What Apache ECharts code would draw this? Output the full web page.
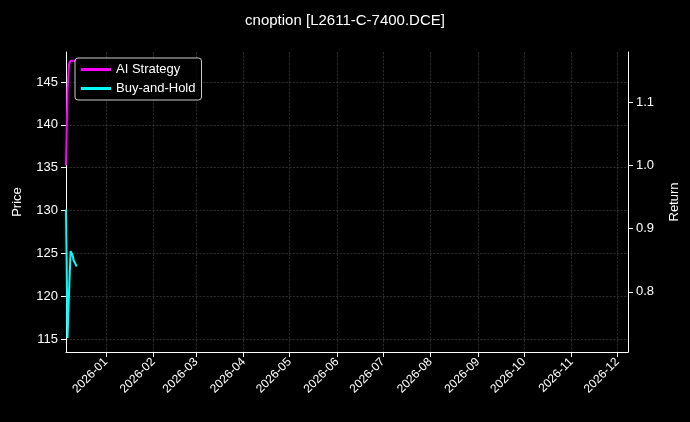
<!DOCTYPE html>
<html><head><meta charset="utf-8">
<script src="https://cdn.jsdelivr.net/npm/echarts@6/dist/echarts.min.js"></script>
<style>html,body{margin:0;background:#000}#c{width:690px;height:422px}</style>
</head><body><div id="c"></div>
<script>
const dates = ['2025-12-06','2025-12-07','2025-12-08','2025-12-09','2025-12-10','2025-12-11','2025-12-12','2025-12-13'];
const aiReturn = [1.00, 1.12, 1.16, 1.165, 1.165, 1.165, 1.165, 1.165];
const bhReturn = [0.93, 0.727, 0.80, 0.864, 0.86, 0.85, 0.845, 0.84];
const tickMonths = ['2026-01','2026-02','2026-03','2026-04','2026-05','2026-06','2026-07','2026-08','2026-09','2026-10','2026-11','2026-12'];

const ts = s => Date.UTC(+s.slice(0, 4), +s.slice(5, 7) - 1, s.length > 7 ? +s.slice(8, 10) : 1);
const monthTicks = tickMonths.map(ts);

const chart = echarts.init(document.getElementById('c'));
const split = {show: true, lineStyle: {color: '#444', type: 'dashed', width: 0.6}};
chart.setOption({
    backgroundColor: '#000',
    animation: false,
    title: {text: 'cnoption [L2611-C-7400.DCE]', left: 'center', top: 8,
        textStyle: {color: '#fff', fontSize: 15, fontWeight: 'normal'}},
    legend: {left: 75, top: 58, orient: 'vertical', itemGap: 6,
        borderColor: '#ccc', borderWidth: 1, borderRadius: 3, padding: [5, 6],
        backgroundColor: 'rgba(0,0,0,0.8)', textStyle: {color: '#fff', fontSize: 13},
        itemWidth: 30, itemHeight: 3, icon: 'rect',
        data: ['AI Strategy', 'Buy-and-Hold']},
    grid: {left: 66, right: 62, top: 52, bottom: 70},
    xAxis: {type: 'value', min: ts('2025-12-06'), max: ts('2026-12-08'),
        axisLine: {lineStyle: {color: '#fff'}},
        axisTick: {show: true, customValues: monthTicks, lineStyle: {color: '#fff'}},
        axisLabel: {color: '#fff', rotate: 45, fontSize: 12, customValues: monthTicks,
            formatter: v => { const d = new Date(v); return d.getUTCFullYear() + '-' + String(d.getUTCMonth() + 1).padStart(2, '0'); }},
        splitLine: split},
    yAxis: [
        {type: 'value', name: 'Price', nameLocation: 'middle', nameGap: 42, nameTextStyle: {color: '#fff', fontSize: 13},
            min: 113.5, max: 148.5,
            axisLabel: {color: '#fff', fontSize: 13, customValues: [115, 120, 125, 130, 135, 140, 145]},
            axisTick: {show: true, customValues: [115, 120, 125, 130, 135, 140, 145]},
            axisLine: {show: true, lineStyle: {color: '#fff'}}, splitLine: split},
        {type: 'value', name: 'Return', nameLocation: 'middle', nameGap: 40, nameTextStyle: {color: '#fff', fontSize: 13},
            min: 0.705, max: 1.179,
            axisLabel: {color: '#fff', fontSize: 13, customValues: [0.8, 0.9, 1.0, 1.1], formatter: v => v.toFixed(1)},
            axisTick: {show: true, customValues: [0.8, 0.9, 1.0, 1.1]},
            axisLine: {show: true, lineStyle: {color: '#fff'}}, splitLine: {show: false}}
    ],
    series: [
        {name: 'AI Strategy', type: 'line', yAxisIndex: 1, showSymbol: false, color: '#ff00ff',
            lineStyle: {width: 2}, data: dates.map((d, i) => [ts(d), aiReturn[i]])},
        {name: 'Buy-and-Hold', type: 'line', yAxisIndex: 1, showSymbol: false, color: '#00ffff',
            lineStyle: {width: 2}, data: dates.map((d, i) => [ts(d), bhReturn[i]])}
    ]
});
</script></body></html>
